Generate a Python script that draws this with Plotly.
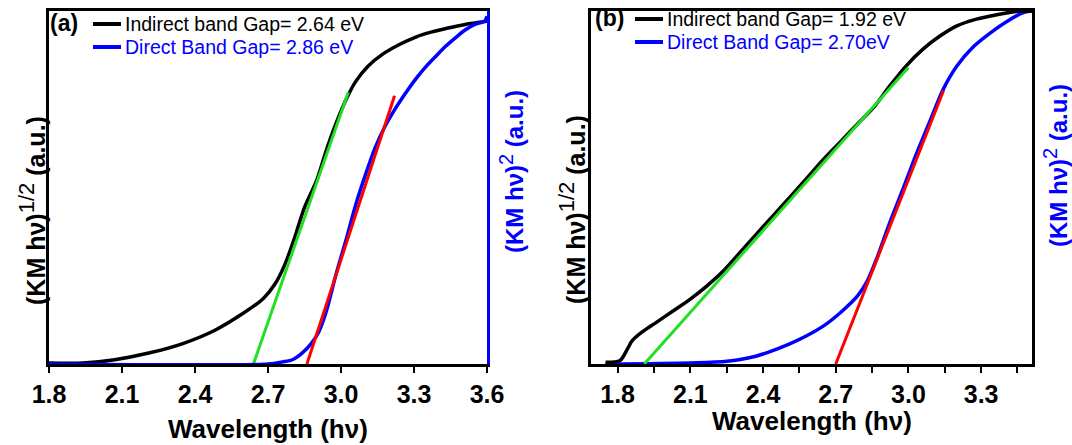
import plotly.graph_objects as go

# ---------------- data ----------------
# Panel (a)
a_ind_x = [1.80, 1.94, 2.07, 2.21, 2.35, 2.48, 2.59, 2.68, 2.73, 2.77, 2.81, 2.85, 2.90,
           2.94, 2.98, 3.02, 3.06, 3.11, 3.17, 3.24, 3.31, 3.37, 3.44, 3.51, 3.60]
a_ind_y = [0.003, 0.003, 0.012, 0.031, 0.058, 0.095, 0.140, 0.185, 0.228, 0.283, 0.359, 0.444,
           0.520, 0.606, 0.682, 0.748, 0.800, 0.843, 0.877, 0.905, 0.927, 0.940, 0.952, 0.962, 0.971]
a_dir_x = [1.80, 2.70, 2.76, 2.80, 2.84, 2.88, 2.91, 2.94, 2.98, 3.02, 3.06, 3.10, 3.14,
           3.18, 3.22, 3.27, 3.31, 3.35, 3.39, 3.43, 3.47, 3.51, 3.55, 3.59, 3.60]
a_dir_y = [0.0, 0.0, 0.006, 0.012, 0.031, 0.060, 0.093, 0.150, 0.255, 0.350, 0.450, 0.535, 0.612,
           0.672, 0.720, 0.772, 0.810, 0.843, 0.872, 0.900, 0.924, 0.946, 0.962, 0.971, 0.985]
a_ind_fit_x = [2.64, 3.03]
a_ind_fit_y = [0.0, 0.77]
a_dir_fit_x = [2.86, 3.22]
a_dir_fit_y = [0.0, 0.76]

# Panel (b)
b_ind_x = [1.75, 1.81, 1.84, 1.86, 1.90, 1.96, 2.03, 2.10, 2.17, 2.24, 2.30, 2.37, 2.44, 2.51,
           2.58, 2.65, 2.72, 2.79, 2.86, 2.92, 2.99, 3.06, 3.13, 3.20, 3.27, 3.34, 3.41, 3.46, 3.51]
b_ind_y = [0.005, 0.010, 0.042, 0.066, 0.090, 0.118, 0.151, 0.184, 0.222, 0.266, 0.312, 0.366,
           0.419, 0.472, 0.526, 0.580, 0.630, 0.680, 0.730, 0.785, 0.844, 0.892, 0.929, 0.958,
           0.975, 0.986, 0.995, 1.0, 1.0]
b_dir_x = [1.75, 2.10, 2.24, 2.30, 2.37, 2.44, 2.51, 2.58, 2.65, 2.72, 2.79, 2.83, 2.87, 2.92,
           2.98, 3.03, 3.09, 3.145, 3.20, 3.27, 3.34, 3.41, 3.48, 3.51]
b_dir_y = [0.0, 0.003, 0.007, 0.012, 0.022, 0.038, 0.057, 0.080, 0.108, 0.146, 0.193, 0.235,
           0.300, 0.395, 0.500, 0.590, 0.690, 0.780, 0.844, 0.900, 0.939, 0.972, 0.997, 1.0]
b_ind_fit_x = [1.91, 3.00]
b_ind_fit_y = [0.0, 0.84]
b_dir_fit_x = [2.70, 3.145]
b_dir_fit_y = [0.0, 0.775]

x_tick_vals = [1.8, 2.1, 2.4, 2.7, 3.0, 3.3, 3.6]
x_tick_text = ["1.8", "2.1", "2.4", "2.7", "3.0", "3.3", "3.6"]

legend_a = ["Indirect band Gap= 2.64 eV", "Direct Band Gap= 2.86 eV"]
legend_b = ["Indirect band Gap= 1.92 eV", "Direct Band Gap= 2.70eV"]
x_title = "Wavelength (hν)"
y_left_title = "(KM hν)<sup><span style='font-size:22px;font-weight:normal'>1/2</span></sup> (a.u.)"
y_right_title = "(KM hν)<sup><span style='font-size:20px;font-weight:normal'>2</span></sup> (a.u.)"

# ---------------- style ----------------
W, H = 1072, 445
BLACK = "#000000"
BLUE = "#0000ff"
GREEN = "#22e022"
RED = "#ff0000"
FONT = "Liberation Sans, Arial, sans-serif"


def X(px):
    return px / W


def Y(py):
    return 1 - py / H


fig = go.Figure()

SM = 0.8
# panel (a)
fig.add_trace(go.Scatter(x=a_ind_x, y=a_ind_y, mode="lines", xaxis="x", yaxis="y",
                         line=dict(color=BLACK, width=3.5, shape="spline", smoothing=SM)))
fig.add_trace(go.Scatter(x=a_ind_fit_x, y=a_ind_fit_y, mode="lines", xaxis="x", yaxis="y",
                         line=dict(color=GREEN, width=3)))
fig.add_trace(go.Scatter(x=a_dir_x, y=a_dir_y, mode="lines", xaxis="x", yaxis="y3",
                         line=dict(color=BLUE, width=3.5, shape="spline", smoothing=SM)))
fig.add_trace(go.Scatter(x=a_dir_fit_x, y=a_dir_fit_y, mode="lines", xaxis="x", yaxis="y3",
                         line=dict(color=RED, width=3)))

# panel (b)
fig.add_trace(go.Scatter(x=b_dir_x, y=b_dir_y, mode="lines", xaxis="x2", yaxis="y2",
                         line=dict(color=BLUE, width=3.5, shape="spline", smoothing=SM)))
fig.add_trace(go.Scatter(x=b_ind_x, y=b_ind_y, mode="lines", xaxis="x2", yaxis="y2",
                         line=dict(color=BLACK, width=3.5, shape="spline", smoothing=SM)))
fig.add_trace(go.Scatter(x=b_ind_fit_x, y=b_ind_fit_y, mode="lines", xaxis="x2", yaxis="y2",
                         line=dict(color=GREEN, width=3)))
fig.add_trace(go.Scatter(x=b_dir_fit_x, y=b_dir_fit_y, mode="lines", xaxis="x2", yaxis="y2",
                         line=dict(color=RED, width=3)))

ydom = [Y(364), Y(11)]
tickfont = dict(family=FONT, size=25, color=BLACK, weight="bold")
common_x = dict(showline=True, linecolor=BLACK, linewidth=2.5, mirror=True, ticks="outside",
                ticklen=6, tickwidth=2, tickcolor=BLACK, showgrid=False, zeroline=False,
                tickfont=tickfont, tickvals=x_tick_vals, ticktext=x_tick_text,
                automargin=False)
common_y = dict(showline=True, linewidth=2.5, showticklabels=False, ticks="",
                showgrid=False, zeroline=False, range=[0, 1.0], domain=ydom,
                automargin=False)

fig.update_layout(
    template="none",
    width=W, height=H, autosize=False,
    margin=dict(l=0, r=0, t=0, b=0, pad=0),
    paper_bgcolor="white", plot_bgcolor="white",
    showlegend=False,
    xaxis=dict(domain=[X(49), X(487)], range=[1.8, 3.6], anchor="y", **common_x),
    yaxis=dict(anchor="x", linecolor=BLACK, mirror=False, **common_y),
    yaxis3=dict(anchor="x", overlaying="y", side="right", linecolor=BLUE, **common_y),
    xaxis2=dict(domain=[X(591), X(1032)], range=[1.69, 3.51], anchor="y2",
                minor=dict(dtick=0.15, tick0=1.65, ticks="outside", ticklen=6, tickwidth=2,
                           tickcolor=BLACK), **common_x),
    yaxis2=dict(anchor="x2", linecolor=BLACK, mirror=True, **common_y),
)

ann = []
shapes = []
tfont = dict(family=FONT, size=26, color=BLACK, weight="bold")
yfont = dict(family=FONT, size=25, color=BLACK, weight="bold")

# axis titles
for cx, cy in [(268, 429), (811.5, 421)]:
    ann.append(dict(x=X(cx), y=Y(cy), xref="paper", yref="paper", text=x_title,
                    showarrow=False, font=tfont, xanchor="center", yanchor="middle"))
for cx, cy in [(32, 211), (572, 210)]:
    ann.append(dict(x=X(cx), y=Y(cy), xref="paper", yref="paper", text=y_left_title,
                    showarrow=False, font=yfont, textangle=-90,
                    xanchor="center", yanchor="middle"))
for cx, cy in [(511, 172), (1055, 166)]:
    ann.append(dict(x=X(cx), y=Y(cy), xref="paper", yref="paper", text=y_right_title,
                    showarrow=False, font=dict(family=FONT, size=24, color=BLUE, weight="bold"),
                    textangle=-90, xanchor="center", yanchor="middle"))

# panel labels and legends
for lab, lx, l0, texts, rows in [("(a)", 64, 93, legend_a, (24, 47)),
                                 ("(b)", 609, 635, legend_b, (19, 42))]:
    ann.append(dict(x=X(lx), y=Y(rows[0] - 1), xref="paper", yref="paper", text=lab,
                    showarrow=False, font=dict(family=FONT, size=23, color=BLACK, weight="bold"),
                    xanchor="center", yanchor="middle"))
    for txt, col, ry in zip(texts, [BLACK, BLUE], rows):
        shapes.append(dict(type="line", xref="paper", yref="paper", x0=X(l0), x1=X(l0 + 28),
                           y0=Y(ry), y1=Y(ry), line=dict(color=col, width=4)))
        ann.append(dict(x=X(l0 + 30), y=Y(ry), xref="paper", yref="paper", text=txt,
                        showarrow=False, font=dict(family=FONT, size=19.5, color=col),
                        xanchor="left", yanchor="middle"))

fig.update_layout(annotations=ann, shapes=shapes)
fig.write_html("out.html")
